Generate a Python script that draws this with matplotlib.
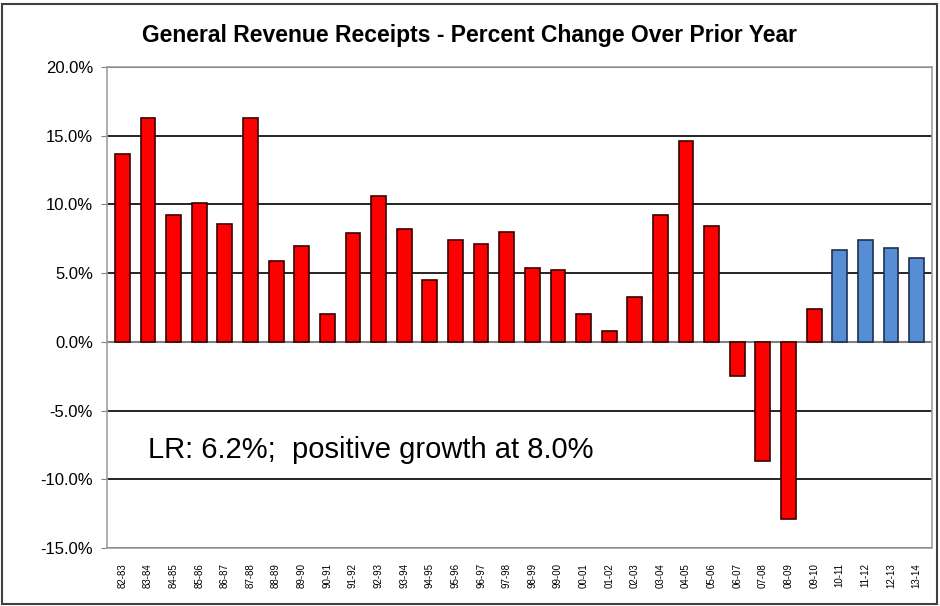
import numpy as np
import matplotlib.pyplot as plt
from matplotlib.patches import Rectangle
from matplotlib.ticker import FuncFormatter

# fiscal years and percent change values
years = ['82-83', '83-84', '84-85', '85-86', '86-87', '87-88', '88-89', '89-90',
         '90-91', '91-92', '92-93', '93-94', '94-95', '95-96', '96-97', '97-98',
         '98-99', '99-00', '00-01', '01-02', '02-03', '03-04', '04-05', '05-06',
         '06-07', '07-08', '08-09', '09-10', '10-11', '11-12', '12-13', '13-14']
pct_change = [13.7, 16.3, 9.2, 10.1, 8.6, 16.3, 5.9, 7.0,
              2.0, 7.9, 10.6, 8.2, 4.5, 7.4, 7.1, 8.0,
              5.4, 5.2, 2.0, 0.8, 3.3, 9.2, 14.6, 8.4,
              -2.5, -8.7, -12.9, 2.4, 6.7, 7.4, 6.8, 6.1]
n_projected = 4  # last four years are estimates (blue)

fig = plt.figure(figsize=(9.4, 6.06), dpi=100)
ax = fig.add_axes([107 / 940, 58 / 606, 825 / 940, 481 / 606])

x = np.arange(len(years))
colors = ['#FF0000'] * (len(years) - n_projected) + ['#558ED5'] * n_projected
edges = ['#3A0000'] * (len(years) - n_projected) + ['#1F3050'] * n_projected
ax.bar(x, pct_change, width=0.58, color=colors, edgecolor=edges, linewidth=1.2, zorder=3)

ax.set_xlim(-0.6, len(years) - 0.4)
ax.set_ylim(-15, 20)
ax.set_yticks(np.arange(-15, 21, 5))
ax.yaxis.set_major_formatter(FuncFormatter(lambda v, p: f'{v:.1f}%'))
ax.grid(axis='y', color='black', linewidth=1.2, zorder=1)
ax.axhline(0, color='#808080', linewidth=1.5, zorder=2)

ax.set_xticks(x)
ax.set_xticklabels(years, rotation=90, fontsize=7, family='Liberation Sans')
ax.tick_params(axis='x', length=0, pad=11)
ax.tick_params(axis='y', length=4, color='#808080', labelsize=12, pad=6)
for lbl in ax.get_yticklabels():
    lbl.set_family('Liberation Sans')
for sp in ax.spines.values():
    sp.set_color('#A0A0A0')
    sp.set_linewidth(1.2)

fig.text(0.5, 0.942, 'General Revenue Receipts - Percent Change Over Prior Year',
         ha='center', va='center', fontsize=16.5, fontweight='bold',
         family='Liberation Sans')
ax.text(1.0, -7.9, 'LR: 6.2%;  positive growth at 8.0%', fontsize=21,
        va='center', ha='left', family='Liberation Sans')

# outer frame around the whole chart
fig.patches.append(Rectangle((0.002, 0.003), 0.995, 0.99, transform=fig.transFigure,
                             fill=False, edgecolor='#404040', linewidth=1.5))

fig.savefig('out.png', dpi=100)
